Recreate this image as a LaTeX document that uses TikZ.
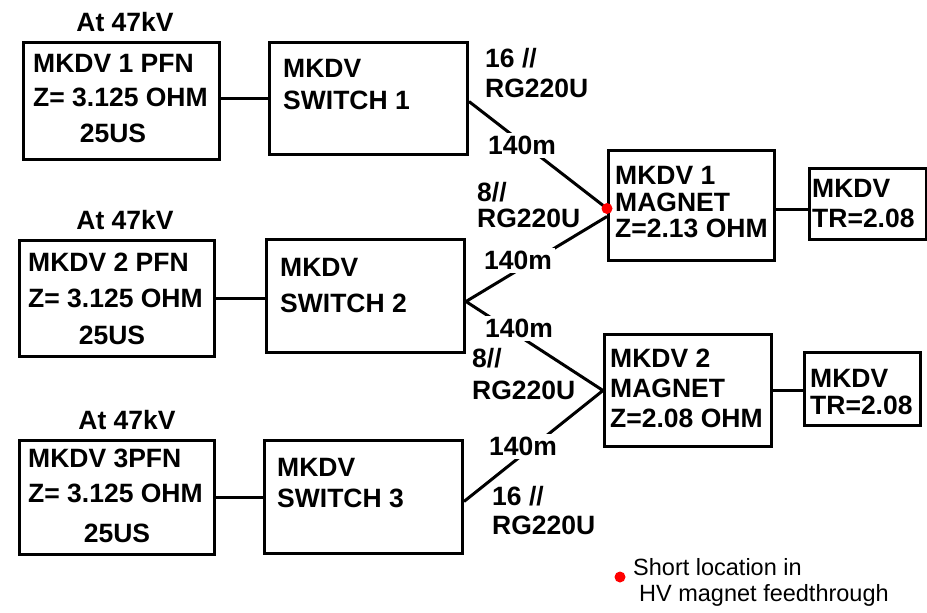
\documentclass[tikz,border=0pt]{standalone}
\usepackage{fontspec}
\setmainfont{Liberation Sans}
\begin{document}
\begin{tikzpicture}[x=1pt,y=-1pt,
 box/.style={draw, line width=3pt, inner sep=0pt, anchor=north west},
 conn/.style={line width=3pt, line join=miter},
 txt/.style={font=\bfseries\fontsize{26.5}{30}\selectfont, inner sep=0pt, text height=19pt, text depth=0pt, anchor=west},
 ctxt/.style={txt, anchor=center},
 lbl/.style={txt, anchor=center, fill=white, inner sep=3pt},
 leg/.style={font=\fontsize{23.5}{27}\selectfont, inner sep=0pt, text height=16.8pt, text depth=0pt, anchor=west},
 reddot/.style={circle, fill=red, inner sep=0pt, minimum size=11pt}]
\useasboundingbox[fill=white] (0,0) rectangle (927,613);

% boxes
\node[box, minimum width=196pt, minimum height=117pt] (pfn1) at (22,41) {};
\node[box, minimum width=198pt, minimum height=112pt] (sw1) at (268,41) {};
\node[box, minimum width=195pt, minimum height=116pt] (pfn2) at (18,239) {};
\node[box, minimum width=198pt, minimum height=113pt] (sw2) at (265,238) {};
\node[box, minimum width=195pt, minimum height=114pt] (pfn3) at (18,439) {};
\node[box, minimum width=198pt, minimum height=113pt] (sw3) at (263,439) {};
\node[box, minimum width=166pt, minimum height=110pt] (mag1) at (607,149) {};
\node[box, minimum width=117pt, minimum height=71pt] (tr1) at (808,167) {};
\node[box, minimum width=167pt, minimum height=112pt] (mag2) at (603,333) {};
\node[box, minimum width=116pt, minimum height=73pt] (tr2) at (803,351) {};

% connectors
\draw[conn] (pfn1.east |- sw1.west) -- (sw1.west);
\draw[conn] (pfn2.east) -- (pfn2.east -| sw2.west);
\draw[conn] (pfn3.east) -- (pfn3.east -| sw3.west);
\draw[conn] ([yshift=-3pt]sw1.east) -- ([yshift=-3pt]mag1.west);
\draw[conn] ([yshift=-11pt]mag1.west) -- ([yshift=-5.5pt]sw2.east) -- (mag2.west) -- ([yshift=-4.5pt]sw3.east);
\coordinate (m1e) at ([yshift=-4pt]mag1.east);
\draw[conn] (m1e) -- (m1e -| tr1.west);
\draw[conn] (mag2.east) -- (mag2.east -| tr2.west);
\node[reddot] (dot) at ([yshift=-3pt]mag1.west) {};

% titles
\node[ctxt] (at1) at (125,22) {At 47kV};
\node[ctxt] (at2) at (125,220) {At 47kV};
\node[ctxt] (at3) at (127,420) {At 47kV};

% PFN texts
\node[txt] (p1a) at (33,63) {MKDV 1 PFN};
\node[txt] (p1b) at (33,97) {Z= 3.125 OHM};
\node[ctxt] (p1c) at (113,133) {25US};
\node[txt] (p2a) at (28,262) {MKDV 2 PFN};
\node[txt] (p2b) at (28,298) {Z= 3.125 OHM};
\node[ctxt] (p2c) at (112,335) {25US};
\node[txt] (p3a) at (28,458) {MKDV 3PFN};
\node[txt] (p3b) at (28,493) {Z= 3.125 OHM};
\node[ctxt] (p3c) at (117,533) {25US};

% switch texts
\node[txt] (s1a) at (283,68) {MKDV};
\node[txt] (s1b) at (283,100) {SWITCH 1};
\node[txt] (s2a) at (280,267) {MKDV};
\node[txt] (s2b) at (280,303) {SWITCH 2};
\node[txt] (s3a) at (277,467) {MKDV};
\node[txt] (s3b) at (277,498) {SWITCH 3};

% magnet texts
\node[txt] (m1a) at (615,175) {MKDV 1};
\node[txt] (m1b) at (615,202) {MAGNET};
\node[txt] (m1c) at (615,228) {Z=2.13 OHM};
\node[txt] (m2a) at (610,358) {MKDV 2};
\node[txt] (m2b) at (610,388) {MAGNET};
\node[txt] (m2c) at (610,418) {Z=2.08 OHM};

% TR texts
\node[txt] (r1a) at (812,188) {MKDV};
\node[txt] (r1b) at (812,218) {TR=2.08};
\node[txt] (r2a) at (810,378) {MKDV};
\node[txt] (r2b) at (810,405) {TR=2.08};

% cable labels
\node[txt] (k1a) at (485,58) {16 //};
\node[txt] (k1b) at (485,88) {RG220U};
\node[lbl] (l1) at (522,145) {140m};
\node[txt] (k2a) at (477,192) {8//};
\node[txt] (k2b) at (477,218) {RG220U};
\node[lbl] (l2) at (518,260) {140m};
\node[lbl] (l3) at (519,328) {140m};
\node[txt] (k3a) at (472,358) {8//};
\node[txt] (k3b) at (472,390) {RG220U};
\node[lbl] (l4) at (523,446) {140m};
\node[txt] (k4a) at (492,496) {16 //};
\node[txt] (k4b) at (492,525) {RG220U};

% legend
\node[reddot] (ldot) at (620,577) {};
\node[leg] (lg1) at (633,567) {Short location in};
\node[leg] (lg2) at (639,593) {HV magnet feedthrough};
\end{tikzpicture}
\end{document}
